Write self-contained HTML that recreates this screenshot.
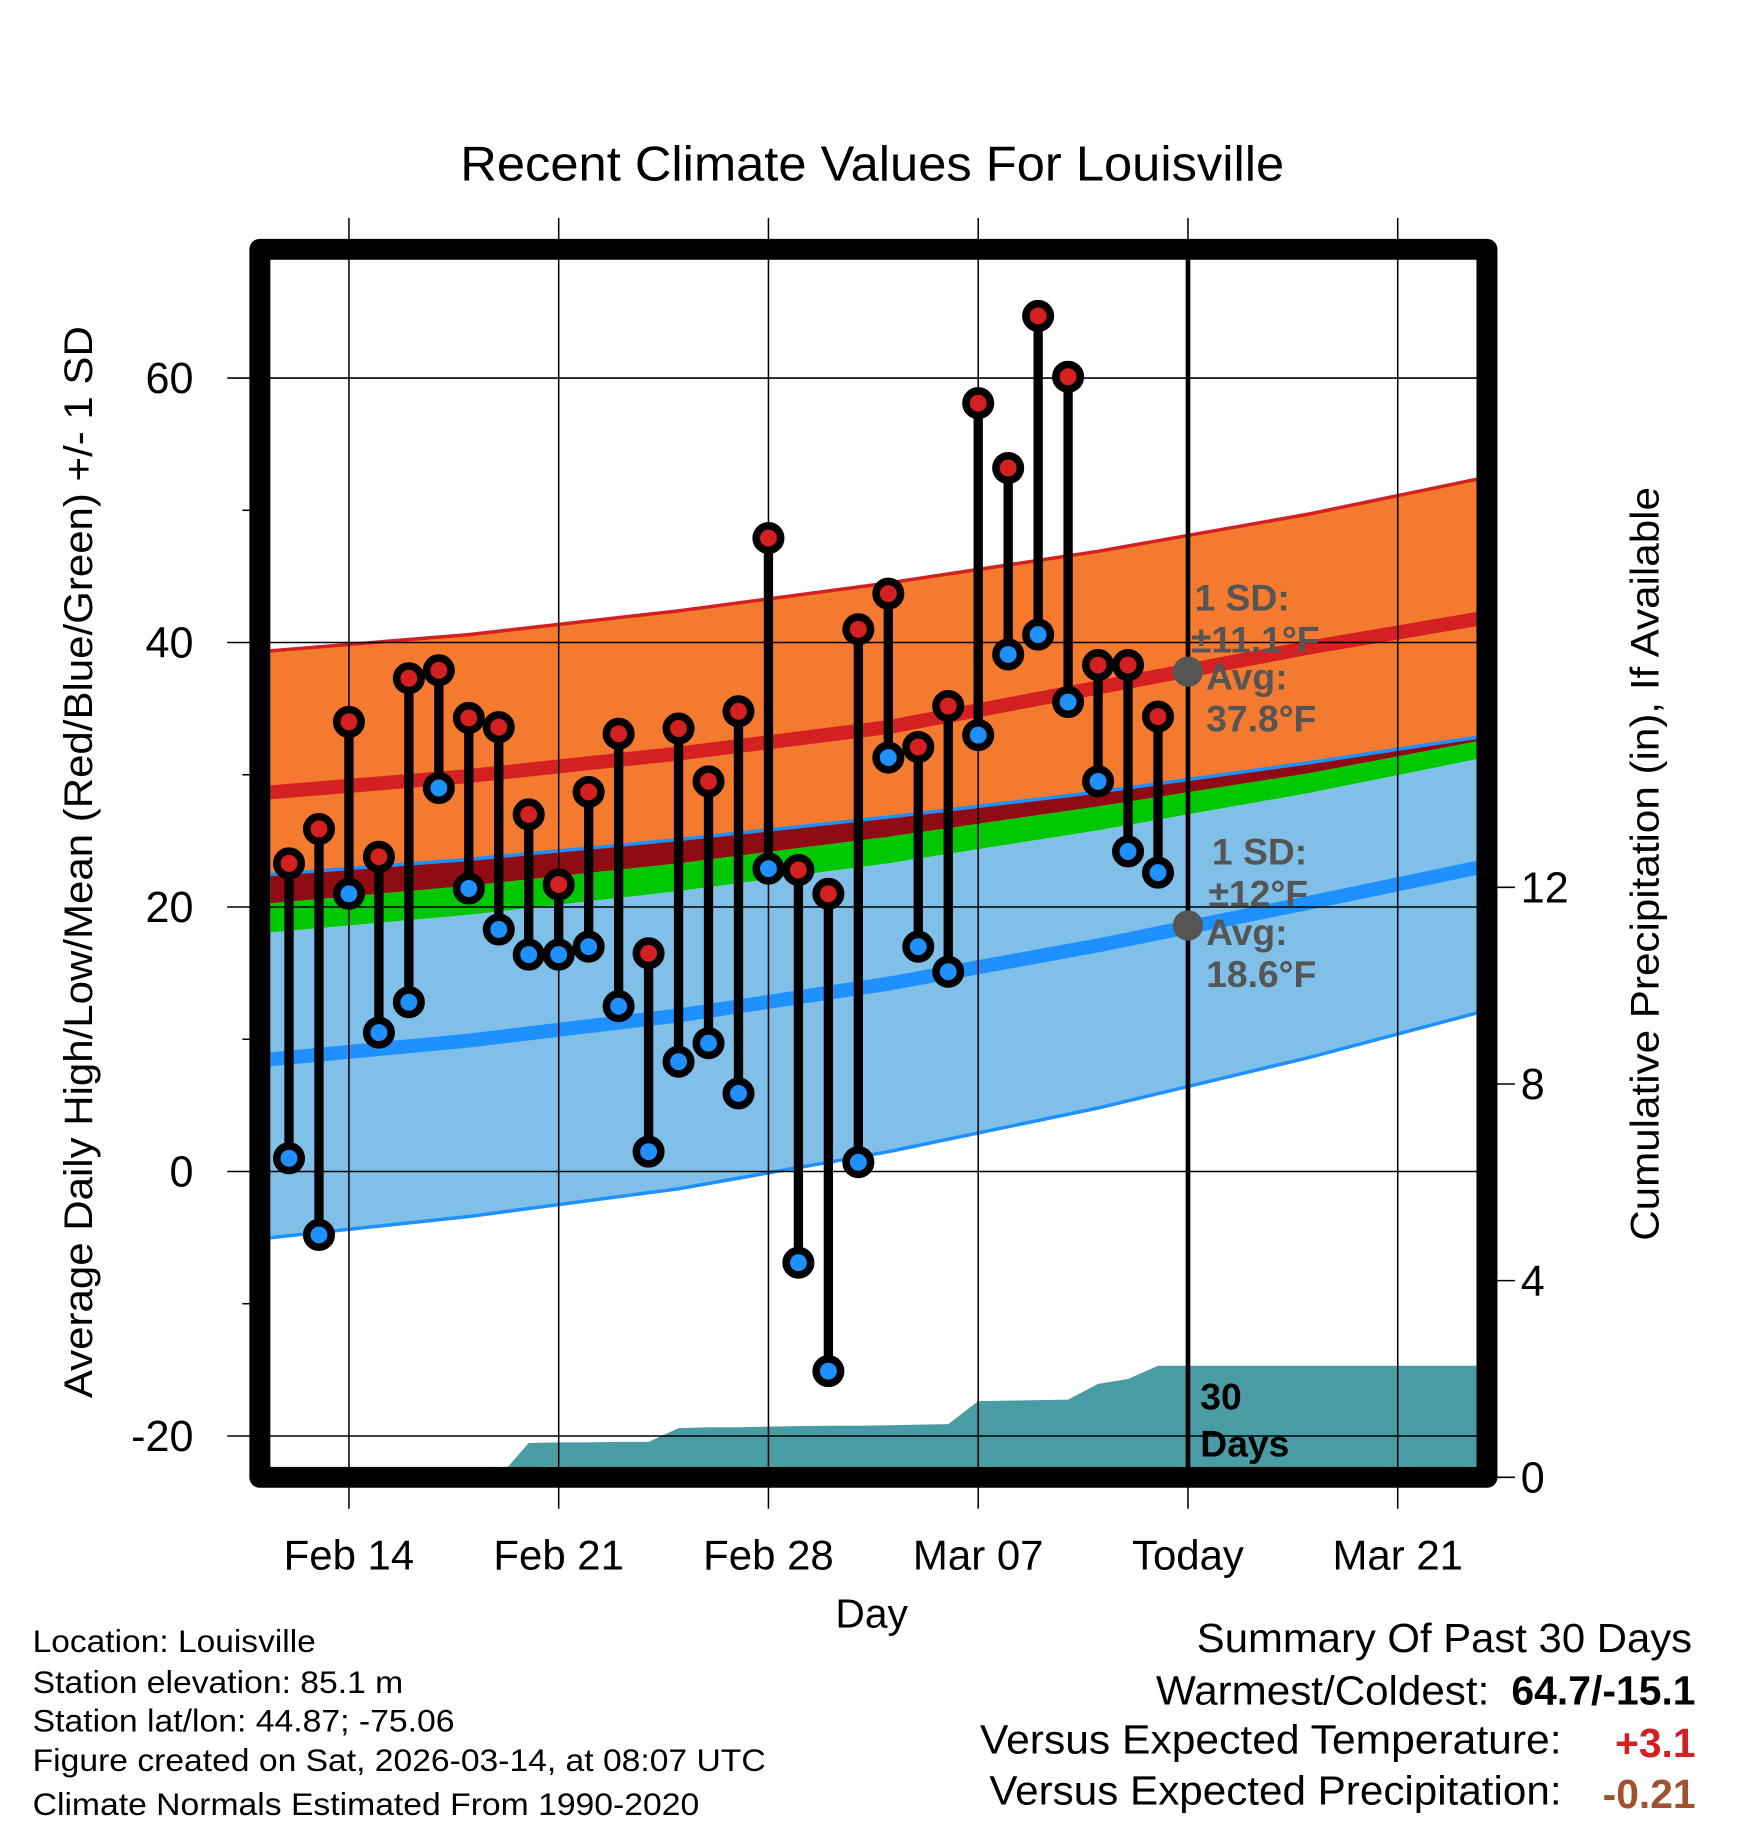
<!DOCTYPE html>
<html><head><meta charset="utf-8"><style>
html,body{margin:0;padding:0;background:#fff}
svg{display:block;font-family:"Liberation Sans",Arial,sans-serif}
</style></head><body>
<svg id="chart" width="1748" height="1828" viewBox="0 0 1500 1569" preserveAspectRatio="none" xmlns="http://www.w3.org/2000/svg">
<defs><clipPath id="plotclip"><rect x="232" y="223" width="1035" height="1036"/></clipPath></defs>
<rect width="1500" height="1569" fill="#fff"/>
<g id="bands" clip-path="url(#plotclip)"></g>
<g id="grid"></g>
<g id="marks" clip-path="url(#plotclip)"></g>
<g id="annot"></g>
<rect x="223" y="214" width="1053" height="1054" fill="none" stroke="#000" stroke-width="18" stroke-linejoin="round"/>
<text x="395" y="155" font-size="42" textLength="707" lengthAdjust="spacingAndGlyphs">Recent Climate Values For Louisville</text>
<text transform="translate(79,1200) rotate(-90)" font-size="34" textLength="920" lengthAdjust="spacingAndGlyphs">Average Daily High/Low/Mean (Red/Blue/Green) +/- 1 SD</text>
<text transform="translate(1423,1065) rotate(-90)" font-size="34" textLength="647" lengthAdjust="spacingAndGlyphs">Cumulative Precipitation (in), If Available</text>
<text x="748" y="1397" font-size="35" text-anchor="middle">Day</text>
<g font-size="27" lengthAdjust="spacingAndGlyphs">
<text x="28" y="1418" textLength="243" lengthAdjust="spacingAndGlyphs">Location: Louisville</text>
<text x="28" y="1453" textLength="318" lengthAdjust="spacingAndGlyphs">Station elevation: 85.1 m</text>
<text x="28" y="1486" textLength="362" lengthAdjust="spacingAndGlyphs">Station lat/lon: 44.87; -75.06</text>
<text x="28" y="1520" textLength="629" lengthAdjust="spacingAndGlyphs">Figure created on Sat, 2026-03-14, at 08:07 UTC</text>
<text x="28" y="1558" textLength="572" lengthAdjust="spacingAndGlyphs">Climate Normals Estimated From 1990-2020</text>
</g>
<g font-size="35">
<text x="1027" y="1418" textLength="425" lengthAdjust="spacingAndGlyphs">Summary Of Past 30 Days</text>
<text x="992" y="1463" textLength="286" lengthAdjust="spacingAndGlyphs">Warmest/Coldest:</text>
<text x="1297" y="1463" font-weight="bold" textLength="158" lengthAdjust="spacingAndGlyphs">64.7/-15.1</text>
<text x="841" y="1505" textLength="499" lengthAdjust="spacingAndGlyphs">Versus Expected Temperature:</text>
<text x="1455" y="1508" text-anchor="end" font-weight="bold" fill="#d42020">+3.1</text>
<text x="849" y="1549" textLength="491" lengthAdjust="spacingAndGlyphs">Versus Expected Precipitation:</text>
<text x="1455" y="1552" text-anchor="end" font-weight="bold" fill="#a0522d">-0.21</text>
</g>
</svg>
<script>
// ---- data ----
const highs = [23.3,25.9,34.0,23.8,37.3,37.9,34.3,33.6,27.0,21.7,28.7,33.1,16.5,33.5,29.5,34.8,47.9,22.8,21.0,41.0,43.7,32.1,35.2,58.1,53.2,64.7,60.1,38.3,38.3,34.4];
const lows  = [1.0,-4.8,21.0,10.5,12.8,29.0,21.4,18.3,16.4,16.4,17.0,12.5,1.5,8.3,9.7,5.9,22.9,-6.9,-15.1,0.7,31.3,17.0,15.1,33.0,39.1,40.6,35.5,29.5,24.2,22.6];
const precip = [0,0,0,0,0,0,0,0,0.70,0.71,0.71,0.72,0.72,1.00,1.02,1.02,1.03,1.04,1.05,1.05,1.06,1.07,1.08,1.55,1.56,1.57,1.58,1.90,2.00,2.27];
const normDays = [-1,6,13,20,27,34,41];
const meanHigh = [28.6,29.9,31.6,33.6,36.6,39.6,42.3];
const meanLow  = [8.4,9.9,11.8,14.2,17.1,20.3,23.6];
const highUpper= [39.3,40.6,42.4,44.5,46.9,49.7,53.0];
const lowUpper = [22.4,23.6,25.1,26.8,28.7,30.9,33.3];
const greenTop = [20.2,21.6,23.3,25.3,27.6,30.1,33.1];
const blueTop  = [18.0,19.4,21.2,23.3,25.8,28.6,31.8];
const lowLower = [-5.1,-3.4,-1.3,1.5,4.8,8.6,12.8];
const yTicks = [60,40,20,0,-20];
const yMinor = [50,30,10,-10];
const pTicks = [0,4,8,12];
const xTickDays = [2,9,16,23,30,37];
const xTickLabels = ["Feb 14","Feb 21","Feb 28","Mar 07","Today","Mar 21"];

// ---- axes ----
const xs = d => 248 + 25.714*d;
const ys = v => 1005.5 - 11.35*v;
const yp = p => 1268 - 42.2*p;
const NS="http://www.w3.org/2000/svg";
function mk(parent,tag,attrs){const e=document.createElementNS(NS,tag);for(const k in attrs)e.setAttribute(k,attrs[k]);parent.appendChild(e);return e;}
function samp(arr){const pts=[];for(let i=0;i<normDays.length;i++)pts.push([xs(normDays[i]),ys(arr[i])]);return pts;}
const ptsStr = p => p.map(q=>q[0].toFixed(1)+","+q[1].toFixed(1)).join(" ");
const bands=document.getElementById('bands'),grid=document.getElementById('grid'),marks=document.getElementById('marks'),annot=document.getElementById('annot');
function band(top,bot,fill,name){const a=samp(top),b=samp(bot).reverse();
 const e=mk(bands,'polygon',{points:ptsStr(a.concat(b)),fill:fill});
 
 }
band(highUpper,lowUpper,'#f47a30','high-sd-band');
band(lowUpper,greenTop,'#900c14','overlap-band');
band(greenTop,blueTop,'#00c800','mean-band');
band(blueTop,lowLower,'#80c0e8','low-sd-band');
function line(arr,col,w,name){const e=mk(bands,'polyline',{points:ptsStr(samp(arr)),fill:'none',stroke:col,'stroke-width':w});
 
 }
line(highUpper,'#d42020',3,'high-upper-line');
line(lowUpper,'#1e90ff',3,'low-upper-line');
line(lowLower,'#1e90ff',3,'low-lower-line');
line(meanHigh,'#d42020',12,'mean-high-line');
line(meanLow,'#1e90ff',12,'mean-low-line');
// precip area
(function(){let p=[[232,yp(0)]];for(let i=0;i<precip.length;i++)p.push([xs(i),yp(precip[i])]);
 p.push([1267,yp(precip[precip.length-1])]);p.push([1267,yp(0)+20]);p.push([232,yp(0)+20]);
 const e=mk(bands,'polygon',{points:ptsStr(p),fill:'#4a9ca4'});
 
 })();
// grid + ticks
yTicks.forEach(v=>{const y=ys(v);
 const g=mk(grid,'line',{x1:195,x2:1267,y1:y,y2:y,stroke:'#000','stroke-width':1.3});
 
 
 const t=mk(grid,'text',{x:166,y:y+13,'font-size':37,'text-anchor':'end'});t.textContent=v;
 
 });
yMinor.forEach(v=>{const y=ys(v);const g=mk(grid,'line',{x1:208,x2:214,y1:y,y2:y,stroke:'#000','stroke-width':1.3});
 
 });
pTicks.forEach(p=>{const y=yp(p);const g=mk(grid,'line',{x1:1276,x2:1300,y1:y,y2:y,stroke:'#000','stroke-width':1.3});
 
 
 const t=mk(grid,'text',{x:1305,y:y+13,'font-size':37});t.textContent=p;
 
 });
xTickDays.forEach((d,i)=>{const x=xs(d);
 const g=mk(grid,'line',{x1:x,x2:x,y1:187,y2:1295,stroke:'#000','stroke-width':1.3});
 
 
 const t=mk(grid,'text',{x:x,y:1347,'font-size':36,'text-anchor':'middle'});t.textContent=xTickLabels[i];
 
 });
// today line
(function(){const x=xs(30);const e=mk(marks,'line',{x1:x,x2:x,y1:215,y2:1265,stroke:'#000','stroke-width':4});
 
 })();
// stems + markers
for(let i=0;i<highs.length;i++){const x=xs(i);
 const s=mk(marks,'line',{x1:x,x2:x,y1:ys(highs[i]),y2:ys(lows[i]),stroke:'#000','stroke-width':8});
 
 
 const h=mk(marks,'circle',{cx:x,cy:ys(highs[i]),r:10.5,fill:'#d42020',stroke:'#000','stroke-width':6.5});
 
 
 const l=mk(marks,'circle',{cx:x,cy:ys(lows[i]),r:10.5,fill:'#1e90ff',stroke:'#000','stroke-width':6.5});
 
 }
// annotations
function txt(x,y,s,size,fill,name){const t=mk(annot,'text',{x:x,y:y,'font-size':size,'font-weight':'bold',fill:fill});t.textContent=s;
 
 }
const tx=xs(30);
const d1=mk(annot,'circle',{cx:tx,cy:ys(37.8),r:13,fill:'#555'});


const d2=mk(annot,'circle',{cx:tx,cy:ys(18.6),r:13,fill:'#555'});


txt(1025,524,'1 SD:',32,'#555','high-sd-label');
txt(1022,560,'±11.1°F',32,'#555','high-sd-value');
txt(1035,592,'Avg:',32,'#555','high-avg-label');
txt(1035,628,'37.8°F',32,'#555','high-avg-value');
txt(1040,742,'1 SD:',32,'#555','low-sd-label');
txt(1037,778,'±12°F',32,'#555','low-sd-value');
txt(1035,811,'Avg:',32,'#555','low-avg-label');
txt(1035,847,'18.6°F',32,'#555','low-avg-value');
txt(1030,1210,'30',32,'#000','precip-days-label');
txt(1030,1250,'Days',32,'#000','precip-days-label-2');
</script>
</body></html>
